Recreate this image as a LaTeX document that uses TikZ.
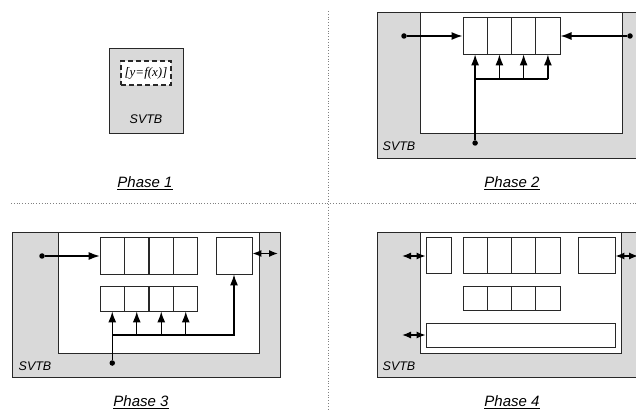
\documentclass[tikz,border=0pt]{standalone}
\usepackage{fontspec}
\setmainfont{Liberation Serif}
\setsansfont{Liberation Sans}
\usepackage{tikz}
\usetikzlibrary{arrows.meta,positioning,calc}
\usepackage{xcolor}
\definecolor{meucinza}{RGB}{217,217,217}
\definecolor{meutraco}{RGB}{40,40,40}

\begin{document}
\begin{tikzpicture}[x=1pt,y=-1pt,
        cell/.style={draw=meutraco, fill=white, line width=0.9pt, minimum width=24.3pt, minimum height=37pt, inner sep=0pt},
        caixa/.style={draw=meutraco, fill=white, line width=0.9pt, inner sep=0pt},
        seta/.style={-{Latex[length=11pt,width=8pt]}, line width=1.3pt},
        duplaseta/.style={{Latex[length=9pt,width=7pt]}-{Latex[length=9pt,width=7pt]}, line width=1.3pt},
        ponto/.style={circle, fill=black, inner sep=0pt, minimum size=5.5pt},
        rotulo/.style={font=\sffamily\itshape\fontsize{12.5}{14}\selectfont, inner sep=1pt},
        fase/.style={font=\sffamily\itshape\fontsize{15}{17}\selectfont, inner sep=1pt},
        fundo/.style={fill=meucinza, draw=meutraco, line width=0.9pt},
        interno/.style={fill=white, draw=meutraco, line width=0.9pt},
        divisao/.style={dotted, draw=gray, line width=0.8pt}
    ]
        \useasboundingbox (0,0) rectangle (636,411);

        % divisoes
        \draw[divisao] (328,11) -- (328,411);
        \draw[divisao] (11,203) -- (636,203);

        % Phase 1
        \node[fundo, minimum width=74pt, minimum height=85pt, inner sep=0pt] (sv1) at (146,90.5) {};
        \node[caixa, dash pattern=on 5pt off 3pt, line width=1.1pt, minimum width=50pt, minimum height=24pt, font=\itshape\fontsize{13}{15}\selectfont] (fx) at (146,73) {[y=f(x)]};
        \node[rotulo] (t1) at (146,119) {SVTB};
        \node[fase] (f1) at (145,183) {\underline{Phase 1}};

        % Phase 2
        \draw[fundo] (377,12) rectangle (645,158);
        \draw[interno] (420,12) rectangle (622,133);
        \foreach \i/\x in {1/475.1,2/499.4,3/523.6,4/547.9}
            \node[cell] (r2\i) at (\x,35.5) {};
        \node[ponto] (d2l) at (404,36) {};
        \node[ponto] (d2r) at (630,36) {};
        \node[ponto] (d2b) at (475.1,143) {};
        \coordinate (j2) at (475.1,79);
        \draw[seta] (d2l) -- (d2l -| r21.west);
        \draw[seta] (d2r) -- (d2r -| r24.east);
        \draw[seta] (d2b) -- (r21.south);
        \draw[line width=1.3pt] (j2) -- (j2 -| r24.south);
        \foreach \i in {2,3,4}
            \draw[seta] (j2 -| r2\i.south) -- (r2\i.south);
        \node[rotulo] (t2) at (399,146) {SVTB};
        \node[fase] (f2) at (512,183) {\underline{Phase 2}};

        % Phase 3
        \draw[fundo] (12,232) rectangle (280,377);
        \draw[interno] (58,232) rectangle (259,353);
        \foreach \i/\x in {1/112.25,2/136.75,3/161.25,4/185.75} {
            \node[cell] (r3\i) at (\x,255.5) {};
            \node[cell, minimum height=25pt] (s3\i) at (\x,298.5) {};
        }
        \node[caixa, minimum width=36pt, minimum height=37pt] (o3) at (234,255.5) {};
        \node[ponto] (d3l) at (42,256) {};
        \node[ponto] (d3b) at (112.25,363) {};
        \coordinate (j3) at (112.25,335);
        \coordinate (e3) at (278,253.5);
        \draw[seta] (d3l) -- (d3l -| r31.west);
        \draw[seta] (d3b) -- (s31.south);
        \draw[seta] (j3) -| (o3.south);
        \foreach \i in {2,3,4}
            \draw[seta] (j3 -| s3\i.south) -- (s3\i.south);
        \draw[duplaseta] (e3 -| o3.east) -- (e3);
        \node[rotulo] (t3) at (35,366) {SVTB};
        \node[fase] (f3) at (141,402) {\underline{Phase 3}};

        % Phase 4
        \draw[fundo] (377,232) rectangle (645,377);
        \draw[interno] (420,232) rectangle (621,353);
        \foreach \i/\x in {1/475.1,2/499.4,3/523.6,4/547.9} {
            \node[cell, minimum height=36pt] (r4\i) at (\x,255) {};
            \node[cell, minimum height=24pt] (s4\i) at (\x,298) {};
        }
        \node[caixa, minimum width=25pt, minimum height=36pt] (a4) at (438.5,255) {};
        \node[caixa, minimum width=37pt, minimum height=36pt] (o4) at (596.5,255) {};
        \node[caixa, minimum width=189pt, minimum height=24pt] (w4) at (520.5,335) {};
        \coordinate (e4l) at (402,256);
        \coordinate (e4r) at (638,256);
        \coordinate (e4b) at (402,335);
        \draw[duplaseta] (e4l) -- (e4l -| a4.west);
        \draw[duplaseta] (e4r -| o4.east) -- (e4r);
        \draw[duplaseta] (e4b) -- (w4.west);
        \node[rotulo] (t4) at (399,366) {SVTB};
        \node[fase] (f4) at (512,402) {\underline{Phase 4}};

    \end{tikzpicture}
\end{document}
